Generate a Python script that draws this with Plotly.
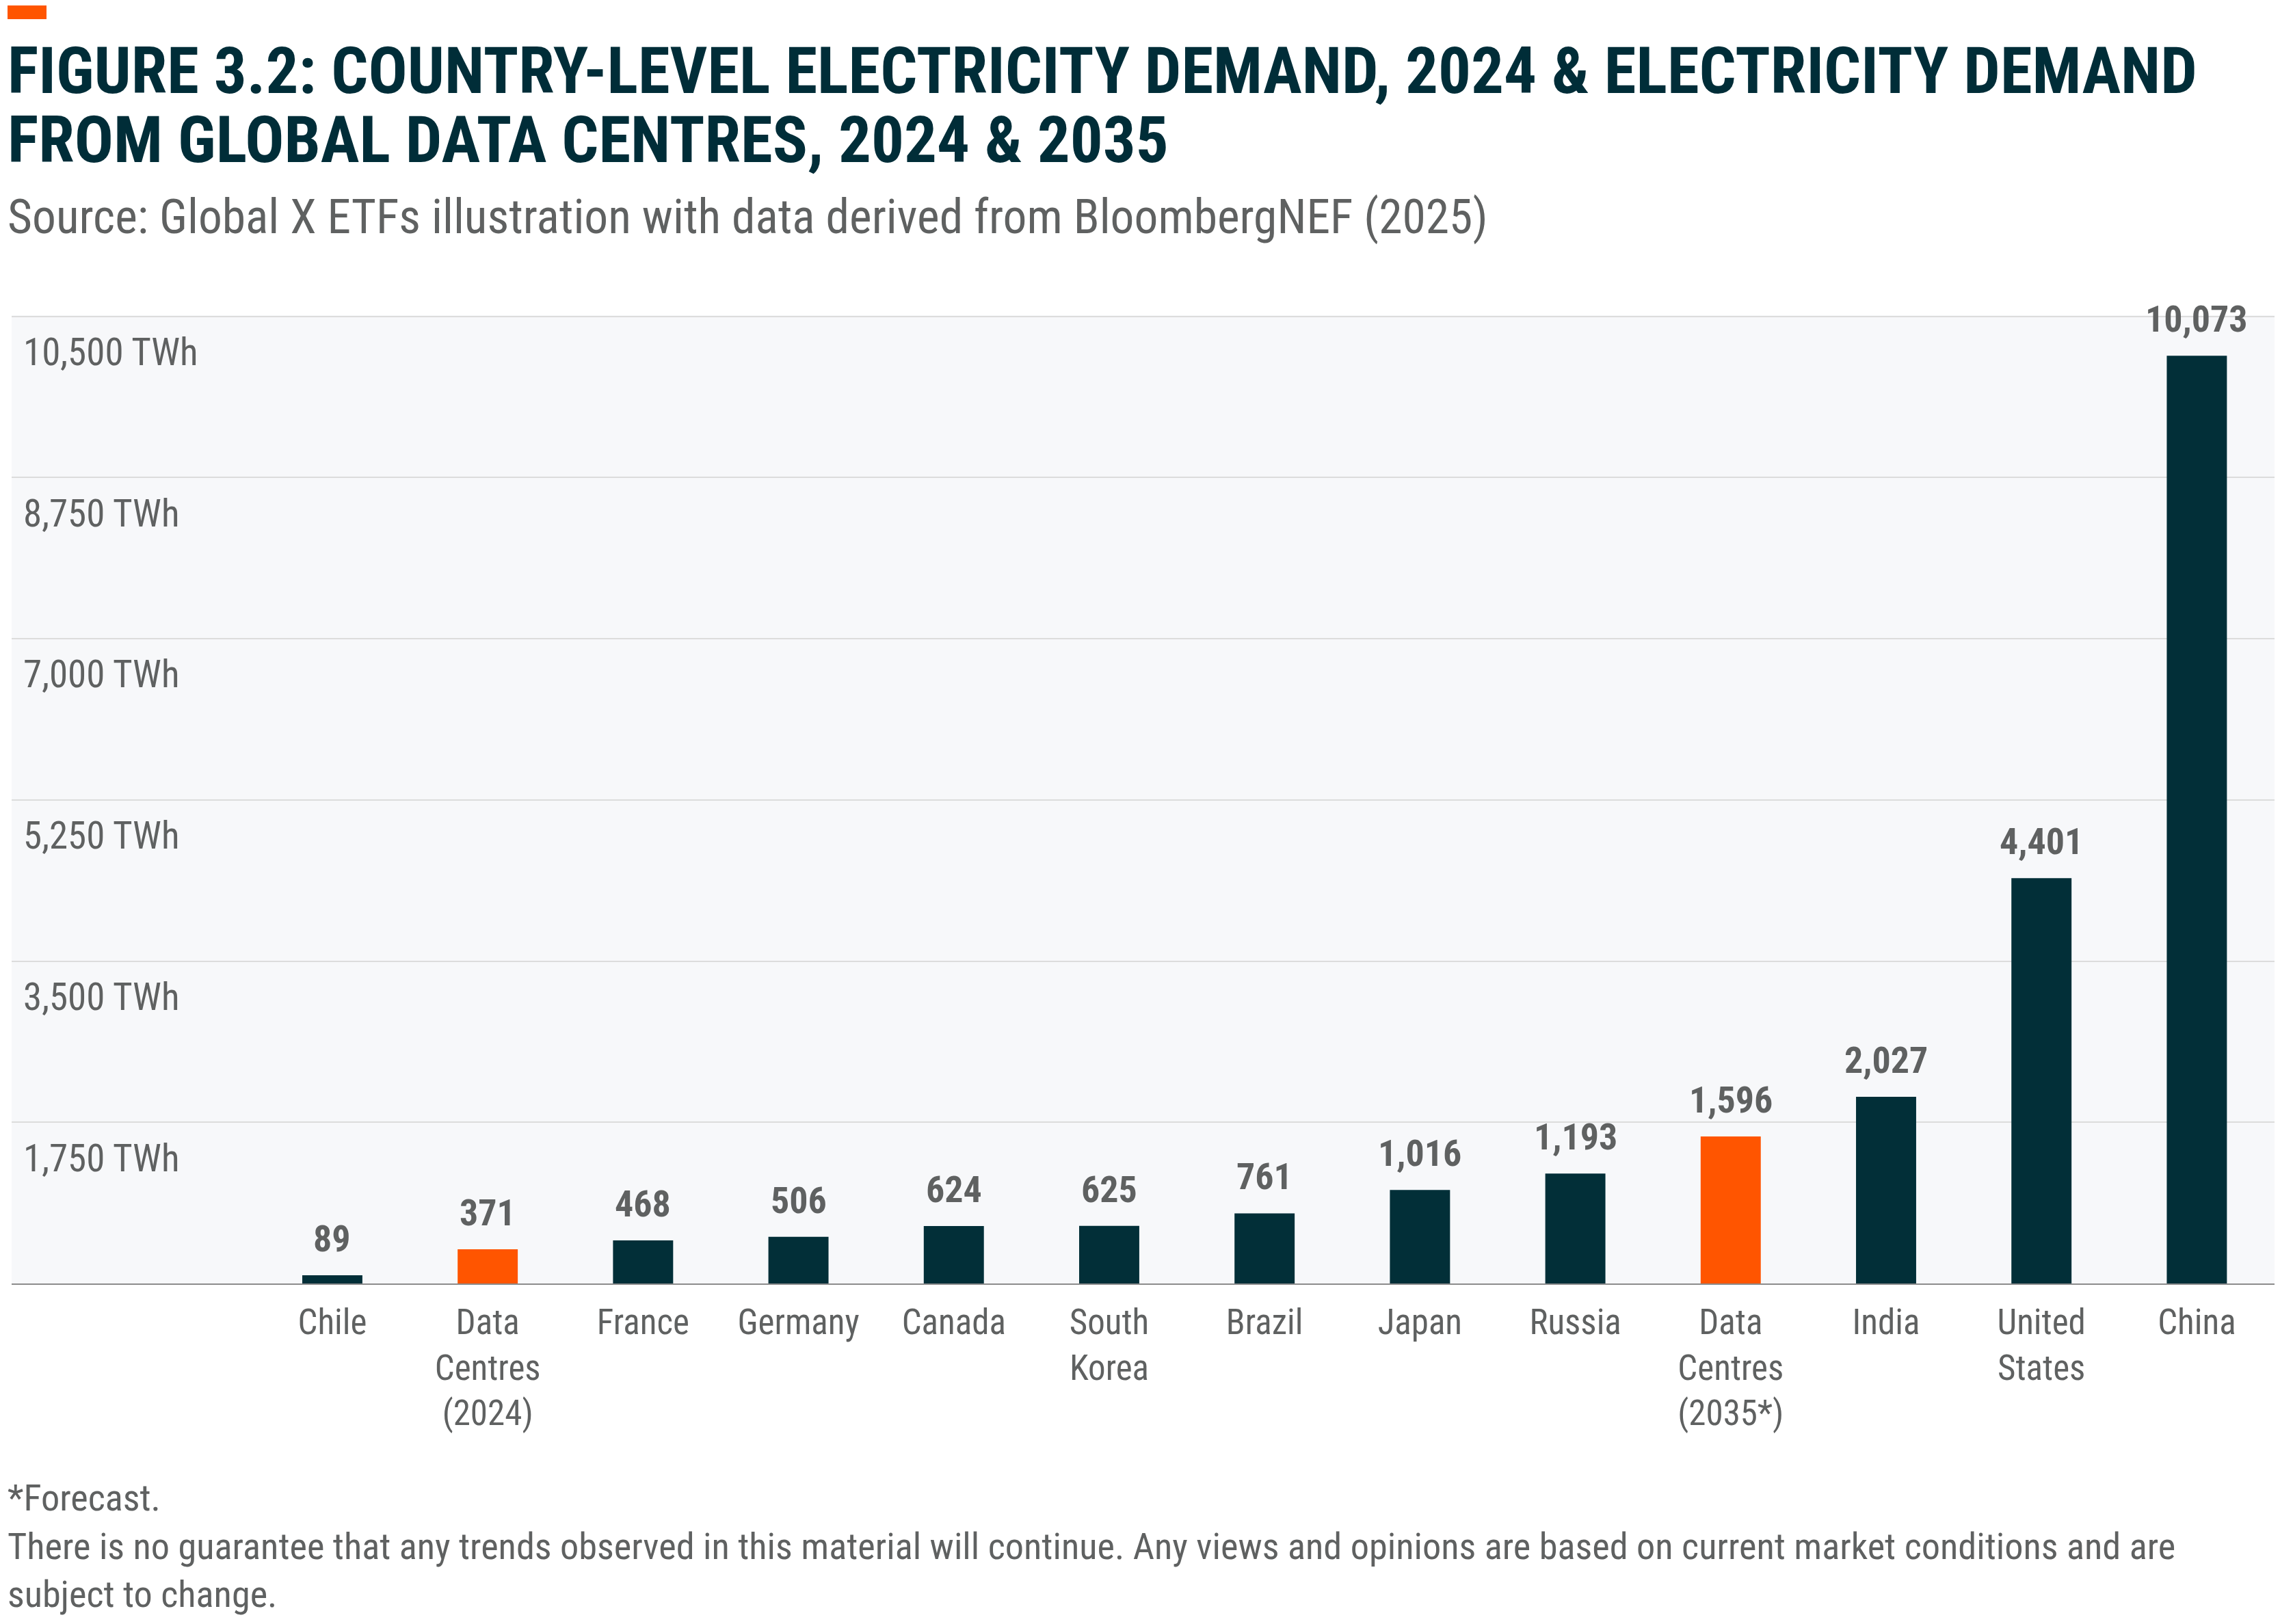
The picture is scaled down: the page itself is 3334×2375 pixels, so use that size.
import plotly.graph_objects as go

# chart data
categories = ["Chile", "Data Centres (2024)", "France", "Germany", "Canada",
              "South Korea", "Brazil", "Japan", "Russia", "Data Centres (2035*)",
              "India", "United States", "China"]
tick_labels = ["Chile", "Data<br>Centres<br>(2024)", "France", "Germany", "Canada",
               "South<br>Korea", "Brazil", "Japan", "Russia", "Data<br>Centres<br>(2035*)",
               "India", "United<br>States", "China"]
demand_twh = [89, 371, 468, 506, 624, 625, 761, 1016, 1193, 1596, 2027, 4401, 10073]
data_centre = [False, True, False, False, False, False, False, False, False, True,
               False, False, False]
y_ticks = [1750, 3500, 5250, 7000, 8750, 10500]
y_tick_text = ["1,750 TWh", "3,500 TWh", "5,250 TWh", "7,000 TWh", "8,750 TWh", "10,500 TWh"]

TITLE = ["FIGURE 3.2: COUNTRY-LEVEL ELECTRICITY DEMAND, 2024 & ELECTRICITY DEMAND",
         "FROM GLOBAL DATA CENTRES, 2024 & 2035"]
SOURCE = "Source: Global X ETFs illustration with data derived from BloombergNEF (2025)"
NOTES = ("*Forecast.<br>There is no guarantee that any trends observed in this material "
         "will continue. Any views and opinions are based on current market conditions and are"
         "<br>subject to change.")

FONT = "Liberation Sans Narrow, Roboto Condensed, DejaVu Sans Condensed, sans-serif"
DARK = "#022f38"
ORANGE = "#ff5500"
GREY = "#5f6161"

# the page body has an 8px margin, so the figure is drawn 8px in from the window edge
OFF = 8
W, H = 3334 - 2 * OFF, 2375 - 2 * OFF
L, T = 17 - OFF, 461 - OFF
R, B = 0, H - (1877 - OFF)
PH = H - T - B
PW = W - L - R


def px_y(p):
    # pixel row in the window -> paper y
    return (H - B - (p - OFF)) / PH


def px_x(p):
    return (p - OFF - L) / PW


fig = go.Figure()
fig.add_trace(go.Bar(
    x=categories,
    y=demand_twh,
    marker=dict(color=[ORANGE if d else DARK for d in data_centre], line=dict(width=0)),
    width=0.387,
    hoverinfo="x+y",
))

# value labels above the bars
for cat, val in zip(categories, demand_twh):
    fig.add_annotation(x=cat, y=val, xref="x", yref="y", text=f"{val:,}",
                       showarrow=False, yanchor="bottom", yshift=20,
                       font=dict(family=FONT, size=54, color=GREY, weight="bold"))

# header and footer
fig.add_annotation(x=px_x(9), y=px_y(136 + 25), xref="paper", yref="paper",
                   text=TITLE[0], showarrow=False, xanchor="left", yanchor="bottom",
                   font=dict(family=FONT, size=95, color="#002d38", weight="bold"))
fig.add_annotation(x=px_x(9), y=px_y(236 + 26), xref="paper", yref="paper",
                   text=TITLE[1], showarrow=False, xanchor="left", yanchor="bottom",
                   font=dict(family=FONT, size=95, color="#002d38", weight="bold"))
fig.add_annotation(x=px_x(9), y=px_y(342 + 18), xref="paper", yref="paper",
                   text=SOURCE, showarrow=False, xanchor="left", yanchor="bottom",
                   font=dict(family=FONT, size=69.5, color=GREY))
fig.add_annotation(x=px_x(9), y=px_y(2350 + 15), xref="paper", yref="paper",
                   text=NOTES, showarrow=False, xanchor="left", yanchor="bottom", align="left",
                   font=dict(family=FONT, size=54.3, color=GREY))

fig.add_shape(type="rect", xref="paper", yref="paper",
              x0=px_x(11), x1=px_x(68), y0=px_y(28), y1=px_y(3),
              fillcolor=ORANGE, line=dict(width=0))

fig.update_layout(
    width=W, height=H,
    margin=dict(l=L, r=R, t=T, b=B),
    paper_bgcolor="white",
    plot_bgcolor="#f7f8fa",
    showlegend=False,
    bargap=0.6,
    font=dict(family=FONT, color=GREY),
)
fig.update_xaxes(
    type="category",
    tickvals=categories, ticktext=tick_labels,
    range=[-2.064, 12.5],
    showgrid=False, showline=True, linecolor="#8c8c8c", linewidth=2,
    ticks="", tickfont=dict(family=FONT, size=51, color=GREY),
    ticklabelstandoff=11,
)
fig.update_yaxes(
    range=[0, 10512],
    tickvals=y_ticks, ticktext=y_tick_text,
    ticklabelposition="inside", ticklabelshift=52, ticklabelstandoff=14,
    showgrid=True, gridcolor="#dcdcdc", gridwidth=2,
    zeroline=False, showline=False, ticks="",
    tickfont=dict(family=FONT, size=55, color=GREY),
)

fig.write_html("out.html")
